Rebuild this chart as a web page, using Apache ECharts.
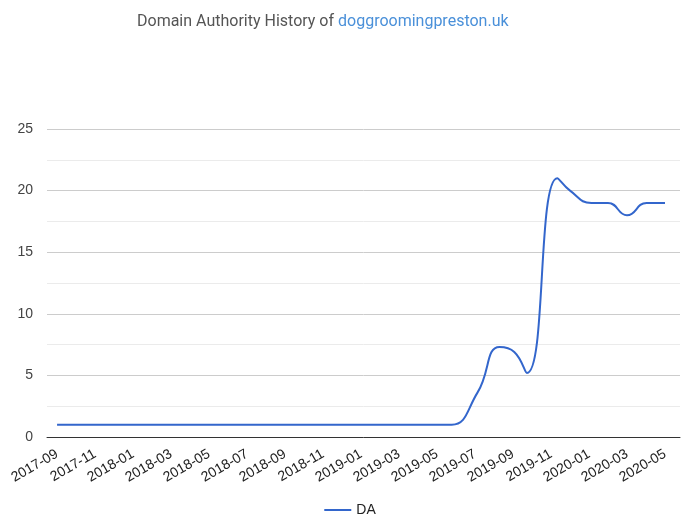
<!DOCTYPE html>
<html>
<head>
<meta charset="utf-8">
<script src="https://cdn.jsdelivr.net/npm/echarts@6/dist/echarts.min.js"></script>
<style>html,body{margin:0;padding:0;background:#fff}#c{width:700px;height:525px}</style>
</head>
<body>
<div id="c"></div>
<script>
const titlePrefix = 'Domain Authority History of ';
const domainName = 'doggroomingpreston.uk';
const seriesName = 'DA';
const dates = [
  '2017-09-01','2017-10-01','2017-11-01','2017-12-01','2018-01-01','2018-02-01','2018-03-01',
  '2018-04-01','2018-05-01','2018-06-01','2018-07-01','2018-08-01','2018-09-01','2018-10-01',
  '2018-11-01','2018-12-01','2019-01-01','2019-02-01','2019-03-01','2019-04-01','2019-05-02',
  '2019-05-25','2019-07-05','2019-08-10','2019-09-03','2019-09-23','2019-11-11','2019-12-01',
  '2020-01-05','2020-02-01','2020-03-01','2020-04-02','2020-05-01'
];
const daValues = [
  1,1,1,1,1,1,1,
  1,1,1,1,1,1,1,
  1,1,1,1,1,1,1,
  1,3.6,7.3,6.9,5.2,21,20,
  19,19,18,19,19
];
const tickLabels = ['2017-09','2017-11','2018-01','2018-03','2018-05','2018-07','2018-09','2018-11',
  '2019-01','2019-03','2019-05','2019-07','2019-09','2019-11','2020-01','2020-03','2020-05'];

function monthOffset(s){
  const p = s.split('-').map(Number);
  const dim = new Date(p[0], p[1], 0).getDate();
  return (p[0]-2017)*12 + (p[1]-9) + (p[2]-1)/dim;
}
function offsetToLabel(v){
  const total = 2017*12 + 8 + Math.round(v);
  const y = Math.floor(total/12), m = total%12 + 1;
  return y + '-' + (m<10?'0':'') + m;
}
const tickOffsets = tickLabels.map(l => monthOffset(l + '-01'));
const seriesData = dates.map((d,i)=>[monthOffset(d), daValues[i]]);

const chart = echarts.init(document.getElementById('c'));
chart.setOption({
  animation:false,
  backgroundColor:'#fff',
  title:{
    text:'{a|'+titlePrefix+'}{b|'+domainName+'}',
    left:132, top:9,
    textStyle:{fontWeight:'normal',rich:{
      a:{fontFamily:'Roboto',fontSize:16,fontWeight:'normal',color:'#555'},
      b:{fontFamily:'Roboto',fontSize:16,fontWeight:'normal',color:'#4a90d9'}
    }}
  },
  legend:{
    bottom:3, left:'center',
    icon:'rect', itemWidth:27, itemHeight:2, itemGap:10,
    textStyle:{fontFamily:'Arial, "Liberation Sans"',fontSize:14,color:'#222'},
    data:[seriesName]
  },
  grid:{left:47,right:20,top:129,bottom:88,containLabel:false},
  xAxis:{
    type:'value',
    min:-0.53, max:32.79,
    axisLine:{show:true,lineStyle:{color:'#333',width:1}},
    axisTick:{show:false},
    splitLine:{show:false},
    axisLabel:{
      customValues:tickOffsets,
      rotate:30, fontFamily:'Arial, "Liberation Sans"', fontSize:14, color:'#222', margin:16,
      formatter:v=>offsetToLabel(v)
    }
  },
  yAxis:{
    type:'value', min:0, max:25, interval:5,
    axisLine:{show:false}, axisTick:{show:false},
    axisLabel:{fontFamily:'Arial, "Liberation Sans"',fontSize:14,color:'#444',margin:14},
    splitLine:{lineStyle:{color:'#cccccc'}},
    minorTick:{show:false,splitNumber:2},
    minorSplitLine:{show:true,lineStyle:{color:'#ebebeb'}}
  },
  series:[{
    name:seriesName, type:'line', data:seriesData,
    smooth:0.5, showSymbol:false, symbol:'none',
    lineStyle:{color:'#3366cc',width:2},
    itemStyle:{color:'#3366cc'}
  }]
});
</script>
</body>
</html>
